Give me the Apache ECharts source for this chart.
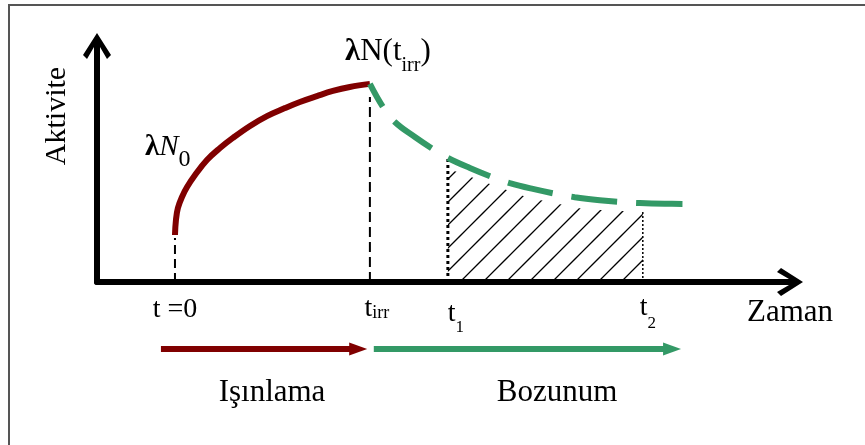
<!DOCTYPE html>
<html>
<head>
<meta charset="utf-8">
<script src="https://cdn.jsdelivr.net/npm/echarts@6.0.0/dist/echarts.min.js"></script>
<style>
  html, body { margin: 0; padding: 0; background: #fff; }
  #chart { width: 865px; height: 445px; }
</style>
</head>
<body>
<div id="chart"></div>
<script>
// Işınlama (irradiation): activity rising from λN0 at t = 0 up to t_irr
const irrT = [0, 0.05, 0.15, 0.36, 0.62, 1.03, 1.64, 2.31, 2.97, 3.85, 4.72, 5.64, 6.41, 7.28, 8.10, 8.97, 10.0]
const irrA = [20.0, 26.4, 31.5, 36.2, 40.4, 45.5, 51.9, 57.0, 61.3, 66.4, 70.6, 74.0, 76.6, 79.1, 81.3, 83.0, 84.3]
// Bozunum (decay) after t_irr
const decT = [10, 10.67, 11.28, 12.31, 13.23, 14.0, 15.13, 16.26, 17.18, 18.36, 19.49, 20.51, 21.79, 22.92, 23.85, 25.13, 26.26]
const decA = [84.3, 74.5, 68.1, 61.7, 56.6, 52.8, 48.5, 44.7, 42.1, 39.6, 37.6, 36.1, 34.8, 34.0, 33.6, 33.3, 33.2]
// hatched counting window t1 .. t2
const hatchT = [14, 14.5, 16.3, 18.1, 21, 24]
const hatchA = [48, 46.8, 41.3, 36, 31, 29.8]
// time marks on the axis and the height of their guide lines
const tickValues = [0, 10, 14, 24]
const tickLabels = ['{z|t =0}', '{ti|t}{si|irr}', '{ta|t}{sa|1}', '{tb|t}{sb|2}']
const guideTop = [18.7, 78.7, 52.8, 29.8]
// spans drawn as arrows under the axis
const spanIrr = [-0.72, 9.4]
const spanDec = [10.2, 25.5]

const FONT = '"Liberation Serif", "Times New Roman", serif'
const RED = '#800000'
const GREEN = '#339966'
const T_MIN = -4, T_MAX = 31.5

const pairs = (xs, ys) => xs.map((x, i) => [x, ys[i]])

// diagonal hatch tile
const tile = document.createElement('canvas')
tile.width = 23; tile.height = 23
const g = tile.getContext('2d')
g.strokeStyle = '#000'; g.lineWidth = 1.3
g.beginPath()
g.moveTo(-1, 7); g.lineTo(7, -1)
g.moveTo(5, 24); g.lineTo(24, 5)
g.stroke()

const arrowHead = 'path://M14,0 L28,22 L24,26 L17,14 L17,28 L11,28 L11,14 L4,26 L0,22 Z'

const guideStyles = [
    { type: [9, 5], width: 2 },
    { type: [10, 5], width: 2 },
    { type: [3, 3], width: 3 },
    { type: [2, 2], width: 1.5 }
]
const guides = tickValues.map((tv, i) => ({
    type: 'line',
    data: [[tv, 0], [tv, guideTop[i]]],
    symbol: 'none',
    lineStyle: { color: '#000', width: guideStyles[i].width, type: guideStyles[i].type }
}))

const span = (s, color) => ({
    type: 'line',
    xAxisIndex: 1, yAxisIndex: 1,
    data: [{ value: [s[0], 0], symbol: 'none' }, [s[1], 0]],
    symbol: 'triangle', symbolSize: [13, 18], symbolRotate: -90,
    lineStyle: { color: color, width: 6 },
    itemStyle: { color: color }
})

const tickRich = {
    z:  { fontFamily: FONT, fontSize: 28, verticalAlign: 'top', padding: [2, 0, 0, 0] },
    ti: { fontFamily: FONT, fontSize: 28, verticalAlign: 'top', padding: [1, 0, 0, 14] },
    si: { fontFamily: FONT, fontSize: 18, verticalAlign: 'top', padding: [10, 0, 0, 0] },
    ta: { fontFamily: FONT, fontSize: 28, verticalAlign: 'top', padding: [6, 0, 0, 16] },
    sa: { fontFamily: FONT, fontSize: 17, verticalAlign: 'top', padding: [25, 0, 0, 0] },
    tb: { fontFamily: FONT, fontSize: 28, verticalAlign: 'top', padding: [0, 0, 0, 10] },
    sb: { fontFamily: FONT, fontSize: 17, verticalAlign: 'top', padding: [21, 0, 0, 0] }
}

const option = {
    animation: false,
    textStyle: { fontFamily: FONT, color: '#000' },
    grid: [
        { left: 97, right: 76, top: 47, bottom: 163, outerBoundsMode: 'none' },
        { left: 97, right: 76, top: 339, height: 20, outerBoundsMode: 'none' }
    ],
    xAxis: [
        {
            type: 'value', min: T_MIN, max: T_MAX,
            name: 'Zaman', nameLocation: 'end', nameGap: -42,
            nameTextStyle: { fontFamily: FONT, fontSize: 31, color: '#000', verticalAlign: 'top', padding: [15, 0, 0, 0] },
            axisLine: {
                onZero: false,
                symbol: ['none', arrowHead], symbolSize: [28, 28],
                lineStyle: { color: '#000', width: 6 }
            },
            axisTick: { show: false },
            splitLine: { show: false },
            axisLabel: {
                customValues: tickValues,
                margin: 12,
                color: '#000',
                formatter: v => tickLabels[tickValues.indexOf(v)],
                rich: tickRich
            }
        },
        { gridIndex: 1, type: 'value', min: T_MIN, max: T_MAX, show: false }
    ],
    yAxis: [
        {
            type: 'value', min: 0, max: 100,
            name: 'Aktivite', nameLocation: 'middle', nameRotate: 90, nameGap: 25,
            nameTextStyle: { fontFamily: FONT, fontSize: 30, color: '#000', padding: [0, 0, 0, 97] },
            axisLine: {
                show: true, onZero: false,
                symbol: ['none', arrowHead], symbolSize: [28, 28],
                lineStyle: { color: '#000', width: 6 }
            },
            axisTick: { show: false },
            axisLabel: { show: false },
            splitLine: { show: false }
        },
        { gridIndex: 1, type: 'value', min: -1, max: 1, show: false }
    ],
    series: [
        {
            type: 'line',
            data: pairs(hatchT, hatchA),
            symbol: 'none',
            lineStyle: { opacity: 0 },
            areaStyle: { color: { image: tile, repeat: 'repeat' }, opacity: 1 }
        },
        ...guides,
        {
            type: 'line',
            data: pairs(irrT, irrA),
            symbol: 'none', smooth: 0.4,
            lineStyle: { color: RED, width: 6 }
        },
        {
            type: 'line',
            data: pairs(decT, decA),
            symbol: 'none', smooth: 0.4,
            lineStyle: { color: GREEN, width: 6, type: [46, 19], dashOffset: 20 }
        },
        span(spanIrr, RED),
        span(spanDec, GREEN)
    ],
    graphic: [
        {
            type: 'rect', silent: true,
            shape: { x: 9, y: 5, width: 900, height: 500 },
            style: { fill: 'none', stroke: '#555', lineWidth: 2 }
        },
        {
            type: 'text', x: 145, y: 133,
            style: {
                text: '{l|λ}{n|N}{s|0}', align: 'left', verticalAlign: 'top',
                rich: {
                    l: { fontFamily: FONT, fontSize: 29, fontWeight: 'bold', verticalAlign: 'top' },
                    n: { fontFamily: FONT, fontSize: 29, fontStyle: 'italic', verticalAlign: 'top' },
                    s: { fontFamily: FONT, fontSize: 24, verticalAlign: 'top', padding: [15, 0, 0, 0] }
                }
            }
        },
        {
            type: 'text', x: 345, y: 36,
            style: {
                text: '{l|λ}{m|N(t}{s|irr}{m|)}', align: 'left', verticalAlign: 'top',
                rich: {
                    l: { fontFamily: FONT, fontSize: 31, fontWeight: 'bold', verticalAlign: 'top' },
                    m: { fontFamily: FONT, fontSize: 31, verticalAlign: 'top' },
                    s: { fontFamily: FONT, fontSize: 20, verticalAlign: 'top', padding: [20, 0, 0, 0] }
                }
            }
        },
        {
            type: 'text', x: 272, y: 393,
            style: { text: 'Işınlama', font: '31px ' + FONT, fill: '#000', align: 'center', verticalAlign: 'middle' }
        },
        {
            type: 'text', x: 557, y: 393,
            style: { text: 'Bozunum', font: '31px ' + FONT, fill: '#000', align: 'center', verticalAlign: 'middle' }
        }
    ]
}

const chart = echarts.init(document.getElementById('chart'))
chart.setOption(option)
</script>
</body>
</html>
